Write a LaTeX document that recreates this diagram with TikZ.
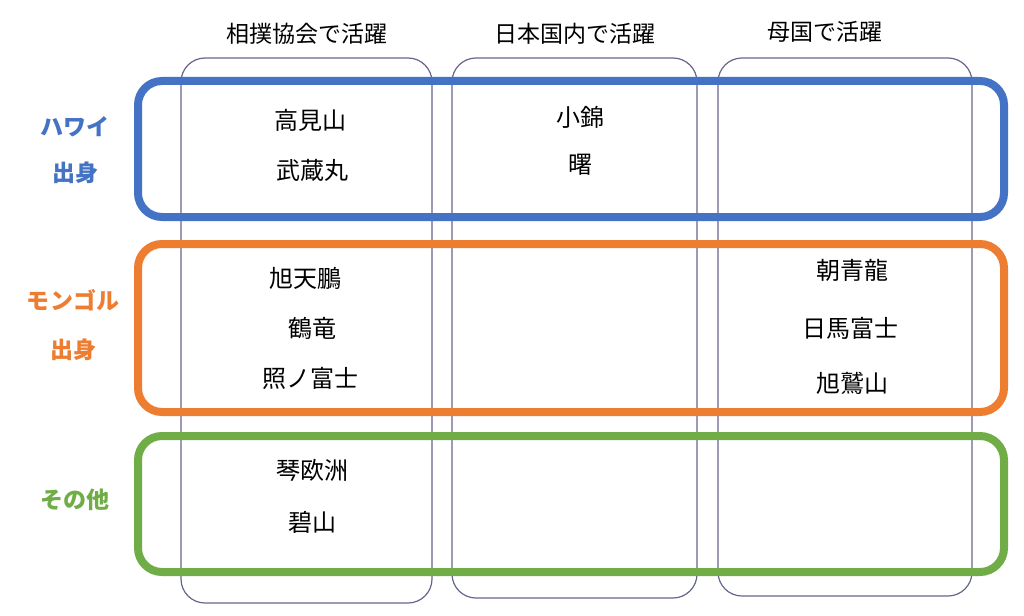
\documentclass[tikz,border=0pt]{standalone}
\usepackage{fontspec}
\setmainfont{Noto Sans CJK JP}
\begin{document}
\begin{tikzpicture}[x=1pt,y=-1pt,
  col/.style={draw=black!75!blue!60,line width=1.2pt,rounded corners=24pt},
  rowbox/.style={line width=8pt,rounded corners=24pt},
  nm/.style={font=\fontsize{24}{26}\selectfont,inner sep=0pt},
  hd/.style={font=\fontsize{23}{25}\selectfont,inner sep=0pt},
  lb/.style={font=\bfseries\fontsize{23}{25}\selectfont,inner sep=0pt}]
\definecolor{cb}{HTML}{4472C4}\definecolor{co}{HTML}{ED7D31}\definecolor{cg}{HTML}{70AD47}
\useasboundingbox (0,0) rectangle (1024,615);
\fill[white] (0,0) rectangle (1024,615);
\draw[col] (181,58) rectangle (432,603);
\draw[col] (452,58) rectangle (697,598);
\draw[col] (718,58) rectangle (972,596);
\draw[rowbox,cb] (138,81) rectangle (1004,217);
\draw[rowbox,co] (138,244) rectangle (1004,412);
\draw[rowbox,cg] (138,436) rectangle (1004,572);
\node[hd] (h1) at (307,34) {相撲協会で活躍};
\node[hd] (h2) at (575,34) {日本国内で活躍};
\node[hd] (h3) at (825,32) {母国で活躍};
\node[lb,text=cb] (l1a) at (75,127) {ハワイ};
\node[lb,text=cb] (l1b) at (75,173) {出身};
\node[lb,text=co] (l2a) at (73,300) {モンゴル};
\node[lb,text=co] (l2b) at (73,350) {出身};
\node[lb,text=cg] (l3) at (75,500) {その他};
\node[nm] (a1) at (310,120) {高見山};
\node[nm] (a2) at (312,170) {武蔵丸};
\node[nm] (b1) at (580,117) {小錦};
\node[nm] (b2) at (580,165) {曙};
\node[nm] (c1) at (305,278) {旭天鵬};
\node[nm] (c2) at (312,328) {鶴竜};
\node[nm] (c3) at (310,378) {照ノ富士};
\node[nm] (d1) at (852,270) {朝青龍};
\node[nm] (d2) at (850,328) {日馬富士};
\node[nm] (d3) at (852,383) {旭鷲山};
\node[nm] (e1) at (312,470) {琴欧洲};
\node[nm] (e2) at (312,522) {碧山};
\end{tikzpicture}
\end{document}
